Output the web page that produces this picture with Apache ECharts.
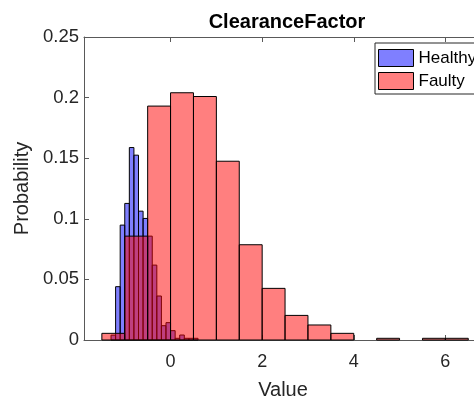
<!DOCTYPE html>
<html>
<head>
<meta charset="utf-8">
<script src="https://cdn.jsdelivr.net/npm/echarts@6/dist/echarts.min.js"></script>
<style>
  html, body { margin: 0; padding: 0; background: #fff; }
  #main { width: 474px; height: 403px; }
</style>
</head>
<body>
<div id="main"></div>
<script>
// bin edges and probabilities
var healthyEdges = [-1.3, -1.2, -1.1, -1.0, -0.9, -0.8, -0.7, -0.6, -0.5, -0.4, -0.3, -0.2, -0.1, 0.0, 0.1, 0.2, 0.3, 0.4, 0.5, 0.6];
var healthyProb = [0.004, 0.044, 0.0948, 0.1127, 0.1588, 0.1525, 0.1063, 0.1003, 0.0857, 0.0618, 0.0363, 0.0118, 0.0143, 0.0077, 0.0014, 0.0041, 0.0014, 0.0014, 0.0014];

var faultyEdges = [-1.5, -1.0, -0.5, 0, 0.5, 1.0, 1.5, 2.0, 2.5, 3.0, 3.5, 4.0, 4.5, 5.0, 5.5, 6.0, 6.5];
var faultyProb = [0.0055, 0.0857, 0.193, 0.204, 0.2009, 0.1475, 0.0786, 0.0426, 0.0203, 0.0124, 0.0055, 0, 0.0014, 0, 0.0014, 0.0014];

var xTicks = [0, 2, 4, 6];
var yTicks = [0, 0.05, 0.1, 0.15, 0.2, 0.25];

var font = '"Liberation Sans", Arial, Helvetica, sans-serif';
var axisColor = '#595959';

function toBins(edges, probs) {
    var out = [];
    for (var i = 0; i < probs.length; i++) {
        if (probs[i] > 0) out.push([edges[i], edges[i + 1], probs[i]]);
    }
    return out;
}

function renderBin(params, api) {
    var p0 = api.coord([api.value(0), api.value(2)]);
    var p1 = api.coord([api.value(1), 0]);
    return {
        type: 'rect',
        shape: { x: p0[0], y: p0[1], width: p1[0] - p0[0], height: p1[1] - p0[1] },
        style: api.style()
    };
}

var chart = echarts.init(document.getElementById('main'));

option = {
    animation: false,
    title: {
        text: 'ClearanceFactor',
        left: 282,
        textAlign: 'center',
        top: 7,
        textStyle: { fontFamily: font, fontSize: 20, fontWeight: 'bold', color: '#000' }
    },
    legend: {
        orient: 'vertical',
        left: 375,
        top: 43,
        padding: [6, 30, 4, 3],
        itemGap: 5,
        itemWidth: 35,
        itemHeight: 17,
        borderColor: '#262626',
        borderWidth: 1,
        backgroundColor: '#fff',
        textStyle: { fontFamily: font, fontSize: 17, color: '#000', lineHeight: 18 },
        data: [
            { name: 'Healthy', icon: 'rect', itemStyle: { color: 'rgba(0,0,255,0.5)', borderColor: '#000', borderWidth: 1 } },
            { name: 'Faulty', icon: 'rect', itemStyle: { color: 'rgba(255,0,0,0.5)', borderColor: '#000', borderWidth: 1 } }
        ]
    },
    grid: {
        left: 84,
        top: 37,
        width: 398,
        height: 303,
        containLabel: false,
        outerBoundsMode: 'none'
    },
    xAxis: [{
        type: 'value',
        min: -1.89,
        max: 6.8,
        name: 'Value',
        nameLocation: 'middle',
        nameGap: 40,
        nameTextStyle: { fontFamily: font, fontSize: 20, color: '#262626' },
        axisLine: { show: true, onZero: false, lineStyle: { color: axisColor } },
        axisTick: { show: true, inside: true, length: 5, customValues: xTicks, lineStyle: { color: axisColor } },
        axisLabel: { customValues: xTicks, margin: 13, fontFamily: font, fontSize: 18, color: '#262626' },
        splitLine: { show: false }
    }, {
        type: 'value',
        position: 'top',
        min: -1.89,
        max: 6.8,
        axisLine: { show: true, onZero: false, lineStyle: { color: axisColor } },
        axisTick: { show: true, inside: true, length: 5, customValues: xTicks, lineStyle: { color: axisColor } },
        axisLabel: { show: false },
        splitLine: { show: false }
    }],
    yAxis: {
        type: 'value',
        min: 0,
        max: 0.25,
        interval: 0.05,
        name: 'Probability',
        nameLocation: 'middle',
        nameGap: 48,
        nameTextStyle: { fontFamily: font, fontSize: 20, color: '#262626' },
        axisLine: { show: true, onZero: false, lineStyle: { color: axisColor } },
        axisTick: { show: true, inside: true, length: 5, lineStyle: { color: axisColor } },
        axisLabel: {
            margin: 5, fontFamily: font, fontSize: 18.5, color: '#262626',
            formatter: function (v) { return yTicks.indexOf(+v.toFixed(2)) >= 0 ? String(+v.toFixed(2)) : ''; }
        },
        splitLine: { show: false }
    },
    series: [{
        name: 'Healthy',
        type: 'custom',
        renderItem: renderBin,
        encode: { x: [0, 1], y: 2 },
        itemStyle: { color: 'rgba(0,0,255,0.5)', borderColor: '#000', borderWidth: 1 },
        data: toBins(healthyEdges, healthyProb)
    }, {
        name: 'Faulty',
        type: 'custom',
        renderItem: renderBin,
        encode: { x: [0, 1], y: 2 },
        itemStyle: { color: 'rgba(255,0,0,0.5)', borderColor: '#000', borderWidth: 1 },
        data: toBins(faultyEdges, faultyProb)
    }]
};

chart.setOption(option);
</script>
</body>
</html>
